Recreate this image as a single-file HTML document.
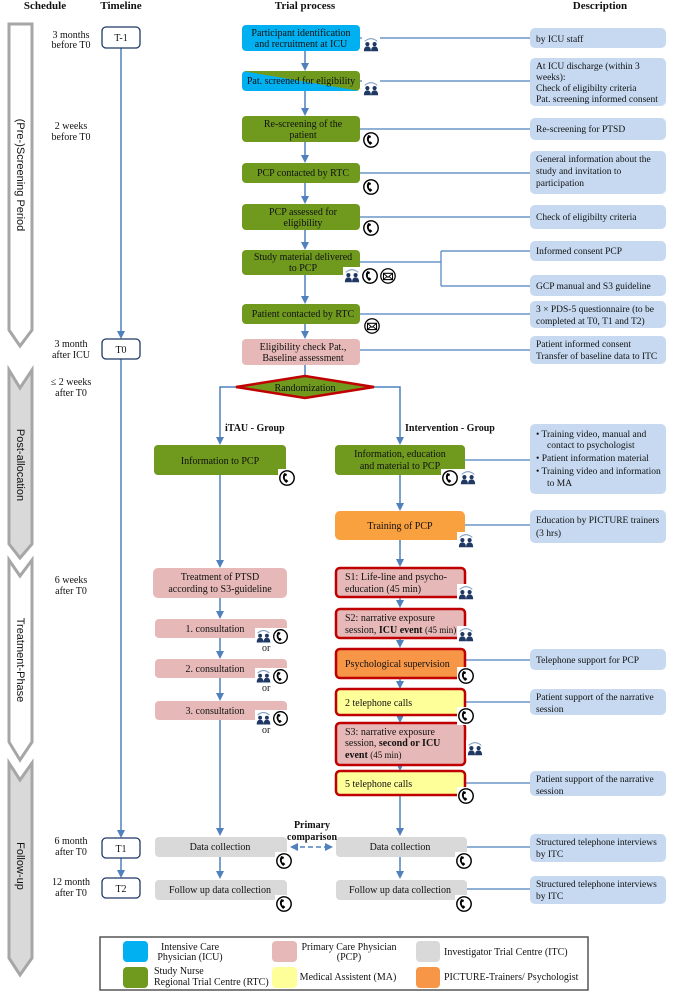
<!DOCTYPE html>
<html><head><meta charset="utf-8"><style>
html,body{margin:0;padding:0;background:#fff}
svg{display:block}
text{font-family:"Liberation Serif",serif;font-size:10px;fill:#111}
.h{font-weight:bold;font-size:11px}
.s{font-family:"Liberation Sans",sans-serif;font-size:11px}
.d text{font-size:9.5px}
</style></head><body>
<svg width="673" height="992" viewBox="0 0 673 992" xmlns="http://www.w3.org/2000/svg">
<defs>
<marker id="a" markerWidth="8" markerHeight="8" refX="6" refY="4" orient="auto" markerUnits="userSpaceOnUse"><path d="M0,0 L8,4 L0,8 Z" fill="#4f81bd"/></marker>
<symbol id="ph" viewBox="-10 -10 20 20"><rect x="-10" y="-10" width="20" height="20" fill="#fff"/><circle r="8" fill="#fff" stroke="#000" stroke-width="1.6"/><path d="M-3,-5.5 Q-7,0 -1,5.5 L1.5,3.5 L-0.5,1.5 L-1.5,2 Q-3,0 -2,-2.5 L-0.8,-2 L0,-4.5 Z" fill="#000"/></symbol>
<symbol id="pp" viewBox="-10 -10 20 20"><rect x="-10" y="-10" width="20" height="20" fill="#fff"/><path d="M-7,-4 Q0,-10 7,-4" fill="none" stroke="#7f9fbf" stroke-width="1.2"/><circle cx="-4" cy="-1" r="2.3" fill="#1f3864"/><circle cx="4" cy="-1" r="2.3" fill="#1f3864"/><path d="M-8,7 Q-8,1.5 -4,1.5 Q0,1.5 0,7Z M0,7 Q0,1.5 4,1.5 Q8,1.5 8,7Z" fill="#1f3864"/></symbol>
<symbol id="ml" viewBox="-10 -10 20 20"><rect x="-10" y="-10" width="20" height="20" fill="#fff"/><circle r="8" fill="#fff" stroke="#000" stroke-width="1.4"/><rect x="-5" y="-3" width="10" height="7" fill="#fff" stroke="#000" stroke-width="1.2"/><path d="M-5,-3 L0,1.5 L5,-3 M-5,4 L-1,0.5 M5,4 L1,0.5" fill="none" stroke="#000" stroke-width="1"/></symbol>
<linearGradient id="bg" x1="0" y1="1" x2="1" y2="0"><stop offset="0.5" stop-color="#00b0f0"/><stop offset="0.5" stop-color="#6f9a1e"/></linearGradient>
</defs>

<text x="45" y="9" class="h" text-anchor="middle">Schedule</text>
<text x="121" y="9" class="h" text-anchor="middle">Timeline</text>
<text x="305" y="9" class="h" text-anchor="middle">Trial process</text>
<text x="600" y="9" class="h" text-anchor="middle">Description</text>

<path d="M9,24 L32,24 L32,330 L20,346 L9,330 Z" fill="#fff" stroke="#a6a6a6" stroke-width="3"/>
<text class="s" transform="translate(17,175) rotate(90)" text-anchor="middle">(Pre-)Screening Period</text>
<path d="M9,370 L20,388 L32,370 L32,544 L20,558 L9,544 Z" fill="#d9d9d9" stroke="#a6a6a6" stroke-width="3"/>
<text class="s" transform="translate(17,465) rotate(90)" text-anchor="middle">Post-allocation</text>
<path d="M9,560 L20,576 L32,560 L32,742 L20,760 L9,742 Z" fill="#fff" stroke="#a6a6a6" stroke-width="3"/>
<text class="s" transform="translate(17,660) rotate(90)" text-anchor="middle">Treatment-Phase</text>
<path d="M9,763 L20,780 L32,763 L32,958 L20,975 L9,958 Z" fill="#d9d9d9" stroke="#a6a6a6" stroke-width="3"/>
<text class="s" transform="translate(17,866) rotate(90)" text-anchor="middle">Follow-up</text>

<g text-anchor="middle">
<text x="71" y="38" font-size="9">3 months</text><text x="71" y="48" font-size="9">before T0</text>
<text x="71" y="129" font-size="9">2 weeks</text><text x="71" y="140" font-size="9">before T0</text>
<text x="71" y="347" font-size="9">3 month</text><text x="71" y="358" font-size="9">after ICU</text>
<text x="71" y="385" font-size="9">≤ 2 weeks</text><text x="71" y="396" font-size="9">after T0</text>
<text x="71" y="583" font-size="9">6 weeks</text><text x="71" y="594" font-size="9">after T0</text>
<text x="71" y="844" font-size="9">6 month</text><text x="71" y="855" font-size="9">after T0</text>
<text x="71" y="885" font-size="9">12 month</text><text x="71" y="896" font-size="9">after T0</text>
</g>

<g stroke="#4f81bd" stroke-width="1.5" fill="none">
<line x1="121" y1="48" x2="121" y2="337" marker-end="url(#a)"/>
<line x1="121" y1="359" x2="121" y2="836" marker-end="url(#a)"/>
<line x1="121" y1="858" x2="121" y2="876" marker-end="url(#a)"/>
</g>
<g fill="#fff" stroke="#1f3864" stroke-width="1.3">
<rect x="102" y="27" width="38" height="21" rx="4"/>
<rect x="102" y="339" width="38" height="20" rx="4"/>
<rect x="102" y="838" width="38" height="20" rx="4"/>
<rect x="102" y="878" width="38" height="20" rx="4"/>
</g>
<g text-anchor="middle">
<text x="121" y="41" font-size="11">T-1</text><text x="121" y="353" font-size="11">T0</text>
<text x="121" y="852" font-size="11">T1</text><text x="121" y="892" font-size="11">T2</text>
</g>

<g stroke="#4f81bd" stroke-width="1.2" fill="none">
<line x1="360" y1="38" x2="530" y2="38"/>
<line x1="360" y1="81" x2="530" y2="81"/>
<line x1="360" y1="129" x2="530" y2="129"/>
<line x1="360" y1="173" x2="530" y2="173"/>
<line x1="360" y1="217" x2="530" y2="217"/>
<path d="M360,262 L441,262 M441,251 L441,286 M441,251 L530,251 M441,286 L530,286"/>
<line x1="360" y1="314" x2="530" y2="314"/>
<line x1="360" y1="350" x2="530" y2="350"/>
<line x1="465" y1="460" x2="530" y2="460"/>
<line x1="465" y1="525" x2="530" y2="525"/>
<line x1="465" y1="660" x2="530" y2="660"/>
<line x1="465" y1="702" x2="530" y2="702"/>
<line x1="465" y1="783" x2="530" y2="783"/>
<line x1="465" y1="847" x2="530" y2="847"/>
<line x1="465" y1="889" x2="530" y2="889"/>
</g>

<g stroke="#4f81bd" stroke-width="1.5" fill="none">
<line x1="305" y1="51" x2="305" y2="69" marker-end="url(#a)"/>
<line x1="305" y1="91" x2="305" y2="114" marker-end="url(#a)"/>
<line x1="305" y1="142" x2="305" y2="161" marker-end="url(#a)"/>
<line x1="305" y1="183" x2="305" y2="202" marker-end="url(#a)"/>
<line x1="305" y1="230" x2="305" y2="248" marker-end="url(#a)"/>
<line x1="305" y1="275" x2="305" y2="302" marker-end="url(#a)"/>
<line x1="305" y1="324" x2="305" y2="337" marker-end="url(#a)"/>
<line x1="305" y1="365" x2="305" y2="376"/>
<path d="M236,387 L220,387 L220,443" marker-end="url(#a)"/>
<path d="M374,387 L400,387 L400,443" marker-end="url(#a)"/>
<line x1="220" y1="475" x2="220" y2="566" marker-end="url(#a)"/>
<line x1="220" y1="598" x2="220" y2="617" marker-end="url(#a)"/>
<line x1="220" y1="638" x2="220" y2="657" marker-end="url(#a)"/>
<line x1="220" y1="678" x2="220" y2="699" marker-end="url(#a)"/>
<line x1="220" y1="720" x2="220" y2="834" marker-end="url(#a)"/>
<line x1="220" y1="857" x2="220" y2="877" marker-end="url(#a)"/>
<line x1="400" y1="475" x2="400" y2="509" marker-end="url(#a)"/>
<line x1="400" y1="540" x2="400" y2="565" marker-end="url(#a)"/>
<line x1="400" y1="597" x2="400" y2="606" marker-end="url(#a)"/>
<line x1="400" y1="638" x2="400" y2="646" marker-end="url(#a)"/>
<line x1="400" y1="678" x2="400" y2="687" marker-end="url(#a)"/>
<line x1="400" y1="715" x2="400" y2="721" marker-end="url(#a)"/>
<line x1="400" y1="765" x2="400" y2="769" marker-end="url(#a)"/>
<line x1="400" y1="795" x2="400" y2="834" marker-end="url(#a)"/>
<line x1="400" y1="857" x2="400" y2="877" marker-end="url(#a)"/>
<line x1="292" y1="847" x2="331" y2="847" stroke-dasharray="5,3" marker-end="url(#a)"/>
<path d="M298,843 L290,847 L298,851Z" fill="#4f81bd" stroke="none"/>
</g>

<rect x="242" y="25" width="118" height="26" rx="4" fill="#00b0f0"/>
<text x="301" y="36" text-anchor="middle">Participant identification</text>
<text x="301" y="47" text-anchor="middle">and recruitment at ICU</text>
<rect x="242" y="71" width="118" height="20" rx="4" fill="url(#bg)"/>
<text x="301" y="84" text-anchor="middle">Pat. screened for eligibility</text>
<g fill="#6f9a1e">
<rect x="242" y="116" width="118" height="26" rx="4"/>
<rect x="242" y="163" width="118" height="20" rx="4"/>
<rect x="242" y="204" width="118" height="26" rx="4"/>
<rect x="242" y="250" width="118" height="25" rx="4"/>
<rect x="242" y="304" width="118" height="20" rx="4"/>
</g>
<g text-anchor="middle">
<text x="303" y="127">Re-screening of the</text><text x="303" y="138">patient</text>
<text x="303" y="176">PCP contacted by RTC</text>
<text x="303" y="215">PCP assessed for</text><text x="303" y="226">eligibility</text>
<text x="303" y="260">Study material delivered</text><text x="303" y="271">to PCP</text>
<text x="303" y="317">Patient contacted by RTC</text>
</g>
<rect x="242" y="339" width="118" height="26" rx="4" fill="#e6b9b8"/>
<text x="303" y="350" text-anchor="middle">Eligibility check Pat.,</text>
<text x="303" y="361" text-anchor="middle">Baseline assessment</text>
<path d="M236,387 L305,376 L374,387 L305,398 Z" fill="#6f9a1e" stroke="#c00000" stroke-width="2.5"/>
<text x="305" y="391" text-anchor="middle">Randomization</text>
<text x="225" y="431" font-weight="bold">iTAU - Group</text>
<text x="405" y="431" font-weight="bold">Intervention - Group</text>

<rect x="154" y="445" width="132" height="30" rx="4" fill="#6f9a1e"/>
<text x="220" y="464" text-anchor="middle">Information to PCP</text>
<rect x="153" y="568" width="134" height="30" rx="5" fill="#e6b9b8"/>
<text x="220" y="580" text-anchor="middle">Treatment of PTSD</text>
<text x="220" y="592" text-anchor="middle">according to S3-guideline</text>
<g fill="#e6b9b8">
<rect x="155" y="619" width="132" height="19" rx="4"/>
<rect x="155" y="659" width="132" height="19" rx="4"/>
<rect x="155" y="701" width="132" height="19" rx="4"/>
</g>
<g text-anchor="middle">
<text x="215" y="632">1. consultation</text>
<text x="215" y="672">2. consultation</text>
<text x="215" y="714">3. consultation</text>
</g>
<g fill="#d9d9d9">
<rect x="155" y="837" width="132" height="20" rx="4"/>
<rect x="155" y="880" width="132" height="20" rx="4"/>
<rect x="336" y="837" width="131" height="20" rx="4"/>
<rect x="336" y="880" width="131" height="20" rx="4"/>
</g>
<g text-anchor="middle">
<text x="220" y="850">Data collection</text>
<text x="220" y="893">Follow up data collection</text>
<text x="400" y="850">Data collection</text>
<text x="400" y="893">Follow up data collection</text>
</g>
<text x="312" y="828" text-anchor="middle" font-weight="bold">Primary</text>
<text x="312" y="840" text-anchor="middle" font-weight="bold">comparison</text>

<rect x="335" y="445" width="130" height="30" rx="4" fill="#6f9a1e"/>
<text x="400" y="457" text-anchor="middle">Information, education</text>
<text x="400" y="469" text-anchor="middle">and material to PCP</text>
<rect x="335" y="511" width="130" height="29" rx="5" fill="#f9a03f"/>
<text x="400" y="529" text-anchor="middle">Training of PCP</text>
<g stroke="#c00000" stroke-width="2.5">
<rect x="336" y="568" width="129" height="29" rx="4" fill="#e6b9b8"/>
<rect x="336" y="609" width="129" height="29" rx="4" fill="#e6b9b8"/>
<rect x="336" y="649" width="129" height="29" rx="4" fill="#f79646"/>
<rect x="336" y="689" width="129" height="26" rx="4" fill="#ffff99"/>
<rect x="336" y="723" width="129" height="42" rx="4" fill="#e6b9b8"/>
<rect x="336" y="771" width="129" height="24" rx="4" fill="#ffff99"/>
</g>
<text x="345" y="580">S1: Life-line and psycho-</text>
<text x="345" y="592">education (45 min)</text>
<text x="345" y="621" font-size="8">S2: narrative exposure</text>
<text x="345" y="633" font-size="8">session, <tspan font-weight="bold">ICU event</tspan> <tspan font-size="9">(45 min)</tspan></text>
<text x="345" y="667">Psychological supervision</text>
<text x="345" y="706">2 telephone calls</text>
<text x="345" y="735" font-size="8">S3: narrative exposure</text>
<text x="345" y="746" font-size="8">session, <tspan font-weight="bold">second or ICU</tspan></text>
<text x="345" y="758" font-size="8"><tspan font-weight="bold">event</tspan> <tspan font-size="9">(45 min)</tspan></text>
<text x="345" y="787">5 telephone calls</text>

<g fill="#c6d9f0">
<rect x="530" y="28" width="136" height="20" rx="5"/>
<rect x="530" y="58" width="136" height="48" rx="5"/>
<rect x="530" y="118" width="136" height="22" rx="5"/>
<rect x="530" y="151" width="136" height="43" rx="5"/>
<rect x="530" y="205" width="136" height="24" rx="5"/>
<rect x="530" y="241" width="136" height="20" rx="5"/>
<rect x="530" y="275" width="136" height="21" rx="5"/>
<rect x="530" y="301" width="136" height="27" rx="5"/>
<rect x="530" y="336" width="136" height="28" rx="5"/>
<rect x="530" y="424" width="136" height="70" rx="5"/>
<rect x="530" y="510" width="136" height="33" rx="5"/>
<rect x="530" y="649" width="136" height="21" rx="5"/>
<rect x="530" y="689" width="136" height="26" rx="5"/>
<rect x="530" y="771" width="136" height="25" rx="5"/>
<rect x="530" y="834" width="136" height="28" rx="5"/>
<rect x="530" y="876" width="136" height="28" rx="5"/>
</g>
<g class="d">
<text x="536" y="42">by ICU staff</text>
<text x="536" y="69">At ICU discharge (within 3</text><text x="536" y="80">weeks):</text><text x="536" y="91">Check of eligibilty criteria</text><text x="536" y="102">Pat. screening informed consent</text>
<text x="536" y="132">Re-screening for PTSD</text>
<text x="536" y="162">General information about the</text><text x="536" y="174">study and invitation to</text><text x="536" y="186">participation</text>
<text x="536" y="220">Check of eligibilty criteria</text>
<text x="536" y="254">Informed consent PCP</text>
<text x="536" y="289">GCP manual and S3 guideline</text>
<text x="536" y="312">3 × PDS-5 questionnaire (to be</text><text x="536" y="324">completed at T0, T1 and T2)</text>
<text x="536" y="347">Patient informed consent</text><text x="536" y="359">Transfer of baseline data to ITC</text>
<text x="536" y="437">•  Training video, manual and</text><text x="547" y="448">contact to psychologist</text>
<text x="536" y="461">•  Patient information material</text>
<text x="536" y="474">•  Training video and information</text><text x="547" y="486">to  MA</text>
<text x="536" y="523">Education by PICTURE trainers</text><text x="536" y="536">(3 hrs)</text>
<text x="536" y="663">Telephone support for PCP</text>
<text x="536" y="700">Patient support of the narrative</text><text x="536" y="712">session</text>
<text x="536" y="782">Patient support of the narrative</text><text x="536" y="794">session</text>
<text x="536" y="845">Structured telephone interviews</text><text x="536" y="857">by ITC</text>
<text x="536" y="887">Structured telephone interviews</text><text x="536" y="899">by ITC</text>
</g>

<use href="#pp" x="362" y="36" width="18" height="18"/>
<use href="#pp" x="362" y="80" width="18" height="18"/>
<use href="#ph" x="362" y="131" width="18" height="18"/>
<use href="#ph" x="362" y="178" width="18" height="18"/>
<use href="#ph" x="362" y="219" width="18" height="18"/>
<use href="#pp" x="343" y="267" width="18" height="18"/>
<use href="#ph" x="361" y="267" width="18" height="18"/>
<use href="#ml" x="379" y="267" width="18" height="18"/>
<use href="#ml" x="363" y="317" width="18" height="18"/>
<use href="#ph" x="278" y="469" width="18" height="18"/>
<use href="#ph" x="441" y="469" width="18" height="18"/>
<use href="#pp" x="459" y="469" width="18" height="18"/>
<use href="#pp" x="457" y="532" width="18" height="18"/>
<use href="#pp" x="457" y="584" width="18" height="18"/>
<use href="#pp" x="457" y="626" width="18" height="18"/>
<use href="#ph" x="457" y="667" width="18" height="18"/>
<use href="#ph" x="457" y="707" width="18" height="18"/>
<use href="#pp" x="466" y="740" width="18" height="18"/>
<use href="#ph" x="457" y="787" width="18" height="18"/>
<use href="#ph" x="275" y="852" width="18" height="18"/>
<use href="#ph" x="455" y="852" width="18" height="18"/>
<use href="#ph" x="275" y="895" width="18" height="18"/>
<use href="#ph" x="455" y="895" width="18" height="18"/>
<use href="#pp" x="255" y="628" width="17" height="17"/><use href="#ph" x="272" y="628" width="17" height="17"/><text x="262" y="651" font-size="9">or</text>
<use href="#pp" x="255" y="668" width="17" height="17"/><use href="#ph" x="272" y="668" width="17" height="17"/><text x="262" y="691" font-size="9">or</text>
<use href="#pp" x="255" y="710" width="17" height="17"/><use href="#ph" x="272" y="710" width="17" height="17"/><text x="262" y="733" font-size="9">or</text>

<rect x="100" y="937" width="488" height="53" fill="#fff" stroke="#555" stroke-width="1.5"/>
<rect x="123" y="941" width="25" height="21" rx="4" fill="#00b0f0"/>
<rect x="123" y="967" width="25" height="21" rx="4" fill="#6f9a1e"/>
<rect x="272" y="941" width="25" height="21" rx="4" fill="#e6b9b8"/>
<rect x="272" y="967" width="25" height="21" rx="4" fill="#ffff99"/>
<rect x="416" y="941" width="24" height="21" rx="4" fill="#d9d9d9"/>
<rect x="416" y="967" width="24" height="21" rx="4" fill="#f79646"/>
<text x="190" y="950" text-anchor="middle" font-size="9">Intensive Care</text><text x="190" y="960" text-anchor="middle" font-size="9">Physician (ICU)</text>
<text x="154" y="974" font-size="9">Study Nurse</text><text x="154" y="985" font-size="9">Regional Trial Centre (RTC)</text>
<text x="349" y="950" text-anchor="middle" font-size="9">Primary Care Physician</text><text x="349" y="960" text-anchor="middle" font-size="9">(PCP)</text>
<text x="348" y="980" text-anchor="middle" font-size="9">Medical Assistent (MA)</text>
<text x="444" y="955" font-size="9">Investigator Trial Centre (ITC)</text>
<text x="444" y="980" font-size="9">PICTURE-Trainers/ Psychologist</text>
</svg>
</body></html>
